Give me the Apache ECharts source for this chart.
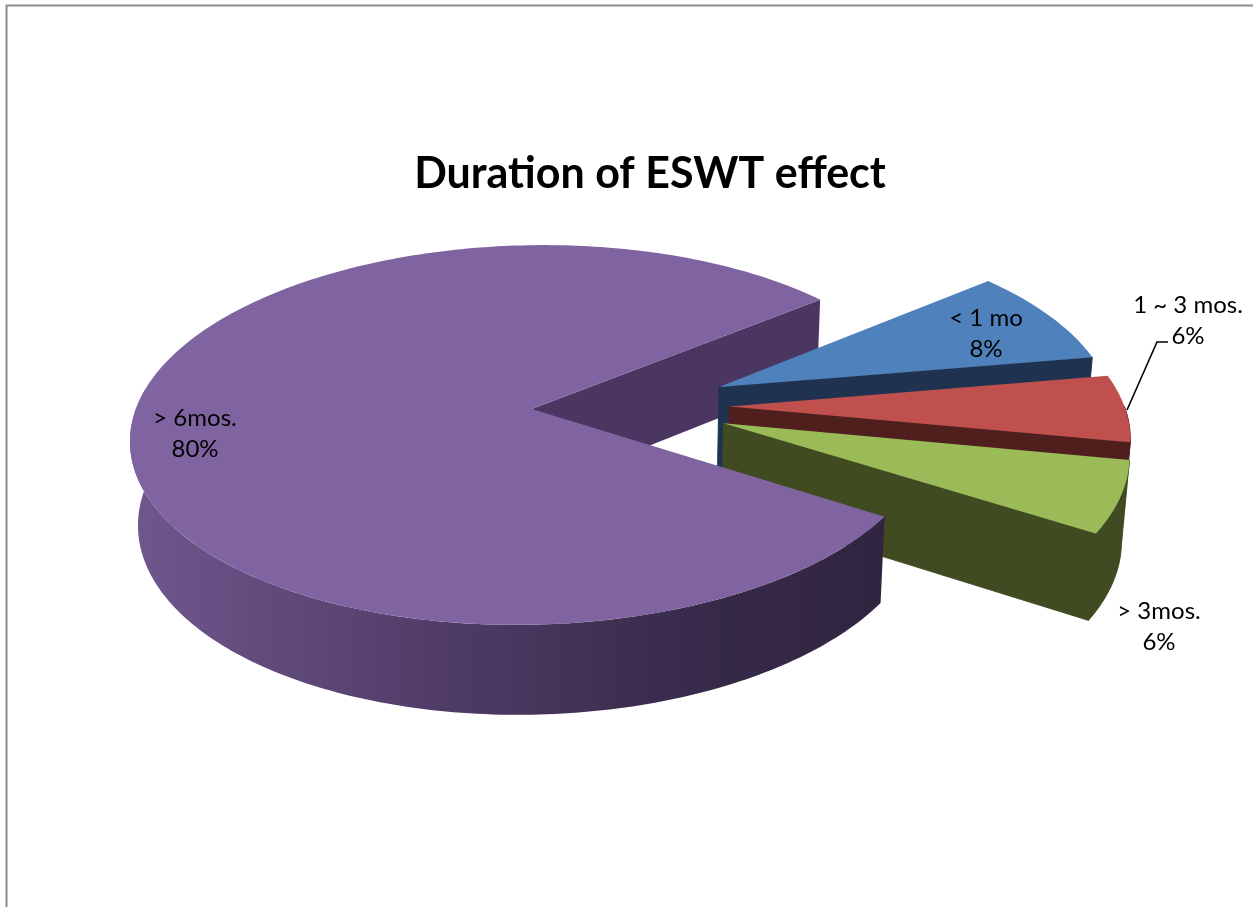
<!DOCTYPE html>
<html><head><meta charset="utf-8">
<style>html,body{margin:0;padding:0;background:#fff}#c{width:1253px;height:907px}</style>
<script src="https://cdn.jsdelivr.net/npm/echarts@6/dist/echarts.min.js"></script>
</head><body><div id="c"></div>
<script>
const titleText = 'Duration of ESWT effect';
const categories = ['< 1 mo', '1 ~ 3 mos.', '> 3mos.', '> 6mos.'];
const values = [8.3, 5.7, 6, 80];
const topColors = ['#4f81bd', '#c0504d', '#9bbb59', '#8064a2'];
const wallColors = ['#1f3350', '#4f1f1e', '#404b22', '#4a3660'];

// layout of the 3D projection
const startDeg = -39.6, explode = 0.25, depth = 86.5, depthSlope = 0.033;
const X0 = 630.5, Y0 = 406, A = 395, B = 185.5, K = 0.137, bottomScale = 0.984;
const labelAt = [[986, 333.5], [1188, 320.5], [1159, 626.5], [195, 434]];
const leaderLine = [[1127, 410], [1157, 342], [1168, 342]];

const total = values.reduce((a, b) => a + b, 0);
const rad = d => d * Math.PI / 180;
function project(u, v) { const w = 1 - K * v; return [X0 + A * u / w, Y0 + B * v / w]; }
function lower(p) { return [X0 + (p[0] - X0) * bottomScale, p[1] + depth + depthSlope * (p[1] - 520)]; }

function renderItem(params, api) {
  const i = params.dataIndex;
  const before = values.slice(0, i).reduce((a, b) => a + b, 0);
  const a0 = startDeg + before / total * 360;
  const a1 = a0 + api.value(0) / total * 360;
  const mid = rad((a0 + a1) / 2);
  const ou = explode * Math.cos(mid), ov = explode * Math.sin(mid);
  const pt = (deg, r) => project(ou + r * Math.cos(rad(deg)), ov + r * Math.sin(rad(deg)));
  const arc = (from, to) => {
    const n = Math.max(4, Math.ceil(Math.abs(to - from))), out = [];
    for (let j = 0; j <= n; j++) out.push(pt(from + (to - from) * j / n, 1));
    return out;
  };
  const apex = pt(0, 0);
  const end = pt(a1, 1);
  const isBig = i === values.length - 1;
  const base = i * 10;
  const poly = (points, fill, z2, stroke) => ({ type: 'polygon', shape: { points }, style: stroke ? { fill, stroke, lineWidth: 1 } : { fill }, z2, silent: true });
  const kids = [];
  // inner wall on the clockwise radial edge
  const wallZ = isBig ? 1 : base + 10;
  kids.push(poly([apex, end, lower(end), lower(apex)], wallColors[i], wallZ, isBig ? null : wallColors[i]));
  // outer rim: only the arc that faces the viewer
  const visFrom = Math.max(a0, 0), visTo = Math.min(a1, 186);
  if (visTo > visFrom) {
    const rim = arc(visFrom, visTo);
    const fill = isBig ? new echarts.graphic.LinearGradient(1, 0, 0, 0, [
      { offset: 0, color: '#302540' }, { offset: 0.25, color: '#372a4a' },
      { offset: 0.55, color: '#4d3a63' }, { offset: 0.8, color: '#604a7a' },
      { offset: 1, color: '#70578e' }]) : wallColors[i];
    kids.push(poly(rim.concat(rim.map(lower).reverse()), fill, base + 11, isBig ? null : wallColors[i]));
  }
  // top face
  kids.push(poly([apex].concat(arc(a0, a1)), topColors[i], base + 12));
  // label
  kids.push({
    type: 'text', z2: 100, silent: true,
    style: {
      x: labelAt[i][0], y: labelAt[i][1],
      text: categories[i] + '\n' + Math.round(values[i]) + '%',
      fill: '#000', font: '24px Lato', align: 'center', verticalAlign: 'middle', lineHeight: 31
    }
  });
  return { type: 'group', children: kids };
}

const chart = echarts.init(document.getElementById('c'), null, { renderer: 'canvas' });
chart.setOption({
  animation: false,
  backgroundColor: '#fff',
  title: {
    text: titleText, left: 645, top: 148, textAlign: 'center',
    textStyle: { fontFamily: 'Lato', fontWeight: 'bold', fontSize: 43, color: '#000' }
  },
  graphic: [
    { type: 'polyline', shape: { points: [[6.5, 907], [6.5, 5.5], [1253, 5.5]] }, style: { stroke: '#8c8c8c', lineWidth: 2, fill: 'none' }, silent: true },
    { type: 'polyline', shape: { points: leaderLine }, style: { stroke: '#000', lineWidth: 1.6, fill: 'none' }, silent: true, z: 5 }
  ],
  series: [{
    type: 'custom', coordinateSystem: 'none', renderItem,
    data: values.map(v => [v]), silent: true
  }]
});
</script></body></html>
